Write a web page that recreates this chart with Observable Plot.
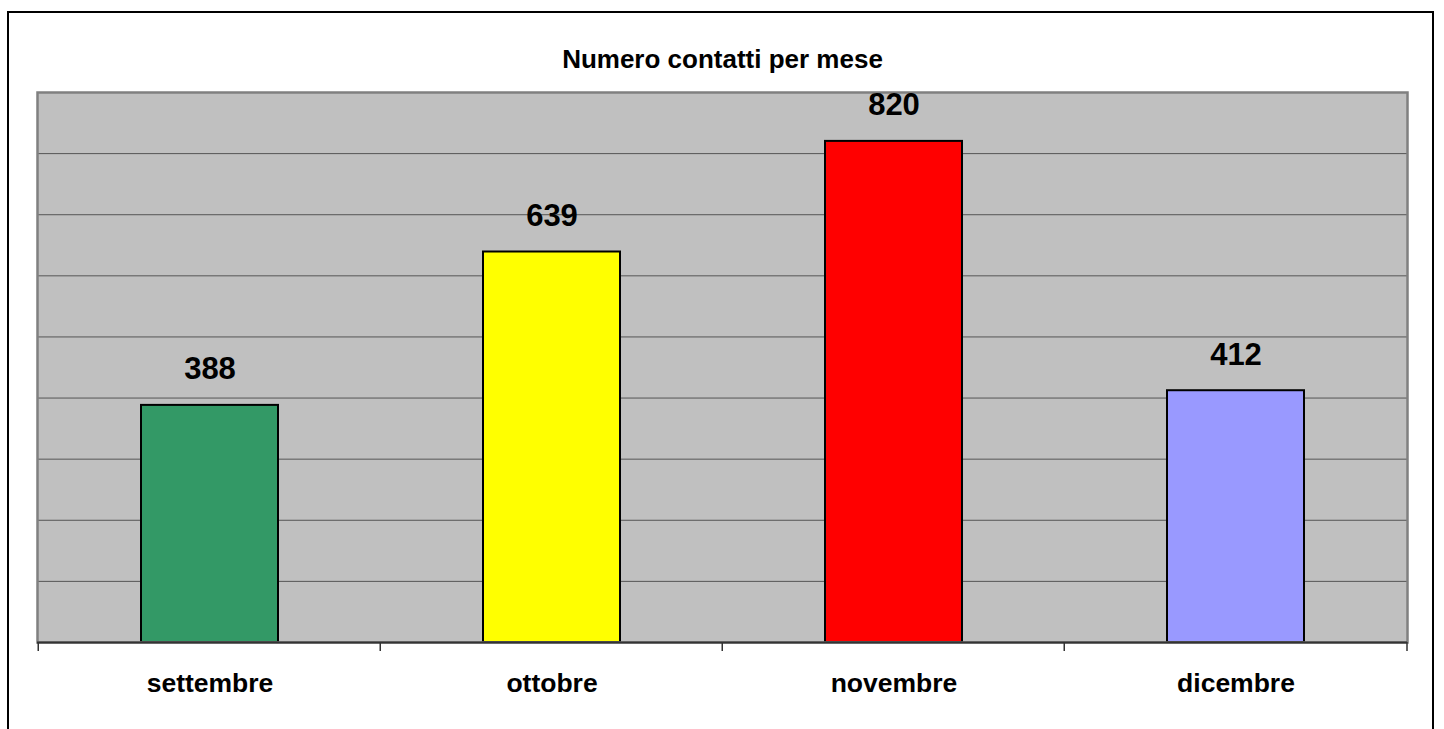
<!DOCTYPE html>
<html>
<head>
<meta charset="utf-8">
<script src="https://cdn.jsdelivr.net/npm/d3@7"></script>
<script src="https://cdn.jsdelivr.net/npm/@observablehq/plot@0.6"></script>
<style>
  html, body { margin: 0; padding: 0; background: #fff; overflow: hidden; }
  #wrap { position: relative; width: 1444px; height: 729px; }
  #border { position: absolute; left: 7px; top: 11px; width: 1427px; height: 740px; border: 2px solid #000; box-sizing: border-box; pointer-events: none; }
  #chart { position: absolute; left: 0; top: 0; }
</style>
</head>
<body>
<div id="wrap"><div id="chart"></div><div id="border"></div></div>
<script>
const title = "Numero contatti per mese";
const months = ["settembre", "ottobre", "novembre", "dicembre"];
const contacts = [388, 639, 820, 412];
const barColors = ["#339966", "#FFFF00", "#FF0000", "#9999FF"];
const gridValues = [100, 200, 300, 400, 500, 600, 700, 800];

const data = months.map((m, i) => ({month: m, value: contacts[i], color: barColors[i]}));

const W = 1444, H = 729;
const mL = 37, mR = 37, mT = 92, mB = 87;
const step = (W - mL - mR) / months.length;

const chart = Plot.plot({
  width: W,
  height: H,
  marginLeft: mL,
  marginRight: mR,
  marginTop: mT,
  marginBottom: mB,
  style: {fontFamily: "'Liberation Sans', Arial, sans-serif", background: "transparent", overflow: "visible"},
  x: {domain: months, paddingInner: 0.6, paddingOuter: 0.3, axis: null},
  y: {domain: [0, 900], axis: null},
  color: {type: "identity"},
  marks: [
    Plot.frame({fill: "#C0C0C0", stroke: "none"}),
    Plot.ruleY(gridValues, {stroke: "#555", strokeWidth: 1}),
    Plot.barY(data, {x: "month", y: "value", fill: "color", stroke: "#000", strokeWidth: 2}),
    Plot.frame({stroke: "#808080", strokeWidth: 2.5}),
    Plot.ruleY([0], {stroke: "#333", strokeWidth: 2}),
    Plot.text(data, {x: "month", y: "value", text: d => String(d.value), dy: -36, fontSize: 31, fontWeight: "bold", fill: "#000"}),
    Plot.text(months, {x: d => d, frameAnchor: "bottom", dy: 41, text: d => d, fontSize: 26.5, fontWeight: "bold", fill: "#000", lineAnchor: "middle"}),
    Plot.text([title], {frameAnchor: "top", dy: -33, text: d => d, fontSize: 26, fontWeight: "bold", fill: "#000", lineAnchor: "middle"})
  ]
});

// tick marks at band boundaries below the axis
const svg = d3.select(chart);
const xs = chart.scale("x");
const yBase = H - mB;
const bounds = months.map(m => xs.apply(m) - (step - xs.bandwidth) / 2).concat([W - mR]);
svg.selectAll("line.bt").data(bounds).join("line")
  .attr("class", "bt")
  .attr("x1", d => d).attr("x2", d => d)
  .attr("y1", yBase).attr("y2", yBase + 9)
  .attr("stroke", "#333").attr("stroke-width", 1.5);

document.getElementById("chart").appendChild(chart);
</script>
</body>
</html>
